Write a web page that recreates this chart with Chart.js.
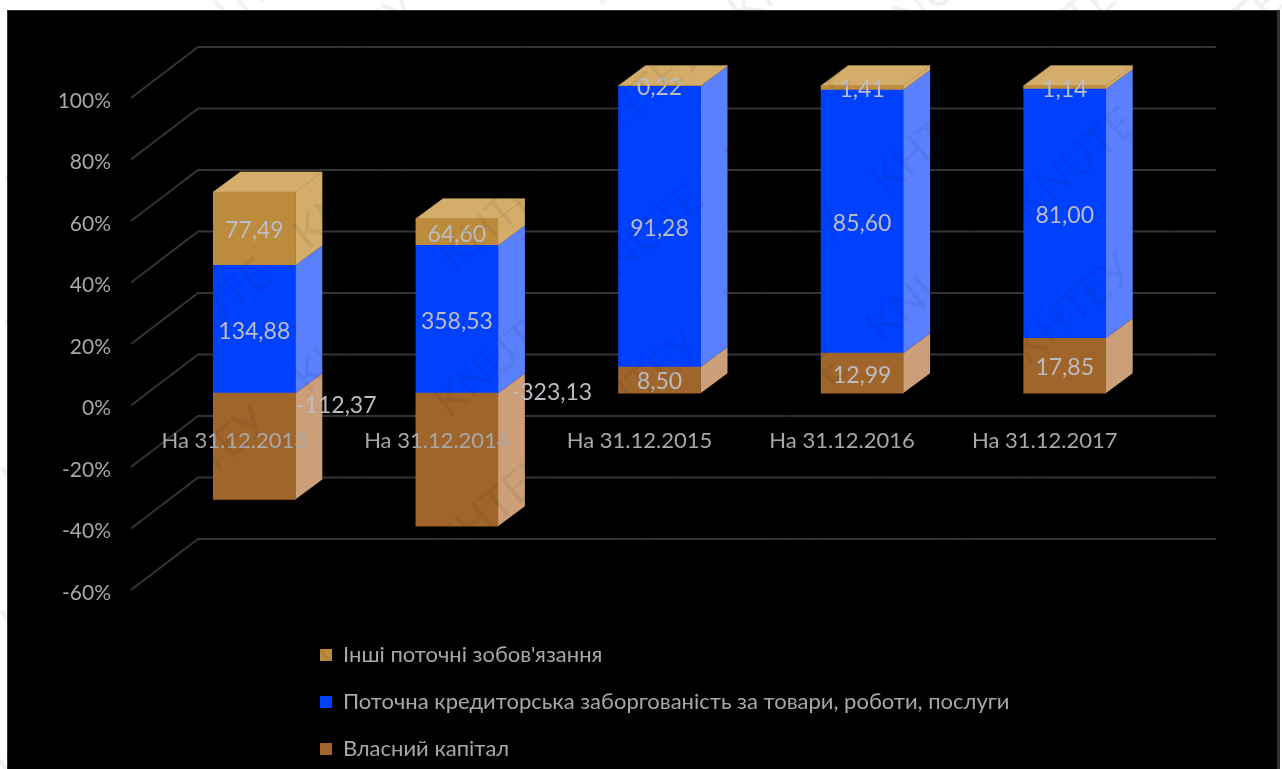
<!DOCTYPE html>
<html>
<head>
<meta charset="utf-8">
<style>
html, body { margin: 0; padding: 0; background: #fff; overflow: hidden; }
canvas { display: block; }
</style>
<script src="https://cdn.jsdelivr.net/npm/chart.js@4"></script>
</head>
<body>
<canvas id="chart" width="1282" height="769"></canvas>
<script>
const categories = ['На 31.12.2013', 'На 31.12.2014', 'На 31.12.2015', 'На 31.12.2016', 'На 31.12.2017'];
const equity = [-112.37, -323.13, 8.50, 12.99, 17.85];
const payables = [134.88, 358.53, 91.28, 85.60, 81.00];
const other = [77.49, 64.60, 0.22, 1.41, 1.14];
const seriesNames = ['Власний капітал', 'Поточна кредиторська заборгованість за товари, роботи, послуги', "Інші поточні зобов'язання"];
const tickValues = [-60, -40, -20, 0, 20, 40, 60, 80, 100];

const FONT = 'Lato, "Noto Sans", sans-serif';
const TEXT = '#a8a8a8';
const LABEL = '#bcbcc4';
const GRID = '#343434';

// bars sit part way into the floor, the walls are further back
const barDx = 27, barDy = 20;
const wallDx = 67, wallDy = 51;
const planeShift = 5; // % the bar plane is raised above the front plane
const wallLeftGap = 22;

// shown value -> share of the column, as Excel does for a 100% stacked chart
function shares(arr) {
	return arr.map((v, i) => {
		const total = Math.abs(equity[i]) + Math.abs(payables[i]) + Math.abs(other[i]);
		return v / total * 100;
	});
}

const shown = [equity, payables, other];
const sideColors = ['#cc9f78', '#5a80ff', '#d4ad6a'];
const topColor = '#d4ad6a';

// the two negative labels are pushed off the bar in the original
const negShift = {0: {x: 82, y: -43}, 1: {x: 95, y: -69}};

const frame3d = {
	id: 'frame3d',
	beforeDraw(chart) {
		const c = chart.ctx;
		c.save();
		c.fillStyle = '#fff';
		c.fillRect(0, 0, chart.width, chart.height);
		c.fillStyle = '#333';
		c.fillRect(7, 10, 1273, 759);
		c.fillStyle = '#000';
		c.fillRect(8, 11, 1269, 758);
		c.restore();
	},
	beforeDatasetsDraw(chart) {
		const c = chart.ctx;
		const yAxis = chart.scales.y;
		const x0 = chart.chartArea.left - wallLeftGap;
		c.save();
		c.strokeStyle = GRID;
		c.lineWidth = 2;
		yAxis.ticks.forEach(t => {
			const py = yAxis.getPixelForValue(t.value) - 3;
			c.beginPath();
			c.moveTo(x0, py);
			c.lineTo(x0 + wallDx, py - wallDy);
			c.lineTo(1216, py - wallDy);
			c.stroke();
		});
		// side and top faces from the bar elements
		chart.data.datasets.forEach((ds, d) => {
			chart.getDatasetMeta(d).data.forEach(bar => {
				const r = bar.x + bar.width / 2;
				c.fillStyle = sideColors[d];
				c.beginPath();
				c.moveTo(r, bar.y);
				c.lineTo(r + barDx, bar.y - barDy);
				c.lineTo(r + barDx, bar.base - barDy);
				c.lineTo(r, bar.base);
				c.closePath();
				c.fill();
			});
		});
		chart.getDatasetMeta(2).data.forEach(bar => {
			const l = bar.x - bar.width / 2, r = bar.x + bar.width / 2;
			c.fillStyle = topColor;
			c.strokeStyle = topColor;
			c.lineWidth = 0.6;
			c.beginPath();
			c.moveTo(l, bar.y);
			c.lineTo(l + barDx, bar.y - barDy);
			c.lineTo(r + barDx, bar.y - barDy);
			c.lineTo(r, bar.y);
			c.closePath();
			c.fill();
			c.stroke();
		});
		c.restore();
	},
	afterDatasetsDraw(chart) {
		const c = chart.ctx;
		c.save();
		c.font = '23px ' + FONT;
		c.fillStyle = LABEL;
		c.textAlign = 'center';
		c.textBaseline = 'middle';
		chart.data.datasets.forEach((ds, d) => {
			chart.getDatasetMeta(d).data.forEach((bar, i) => {
				const txt = shown[d][i].toFixed(2).replace('.', ',');
				let x = bar.x, y = (bar.y + bar.base) / 2 + 2;
				if (d == 0 && negShift[i]) {
					x += negShift[i].x;
					y += negShift[i].y;
				}
				c.fillText(txt, x, y);
			});
		});
		c.restore();
	},
	afterLayout(chart) {
		// legend list under the plot
		const lg = chart.legend;
		lg.left = 320 - lg.options.labels.padding;
		lg.right = 1270;
		lg.top = 619;
		lg.bottom = 1000;
		lg.width = lg.right - lg.left;
		lg.height = lg.bottom - lg.top;
	},
	afterDraw(chart) {
		const c = chart.ctx;
		c.save();
		c.font = '44px ' + FONT;
		c.fillStyle = 'rgba(0,0,0,0.06)';
		c.textAlign = 'center';
		c.textBaseline = 'middle';
		c.translate(640, 385);
		c.rotate(-40 * Math.PI / 180);
		for (let row = -5; row <= 5; row++) {
			for (let col = -5; col <= 5; col++) {
				c.fillText(row % 2 == 0 ? 'KНТЕУ' : 'KNUTE', col * 190 + (row % 2) * 95, row * 110);
			}
		}
		c.restore();
	},
};

window.addEventListener('load', e => {
	new Chart('chart', {
		type: 'bar',
		plugins: [frame3d],
		data: {
			labels: categories,
			datasets: [
				{label: seriesNames[0], data: shares(equity), backgroundColor: '#a0652a', yAxisID: 'yBars', clip: false},
				{label: seriesNames[1], data: shares(payables), backgroundColor: '#0041ff', yAxisID: 'yBars', clip: false},
				{label: seriesNames[2], data: shares(other), backgroundColor: '#bc8c3c', yAxisID: 'yBars', clip: false},
			],
		},
		options: {
			responsive: false,
			animation: false,
			layout: {padding: {top: 101, right: 116, bottom: 176, left: 0}},
			datasets: {bar: {barThickness: 82}},
			plugins: {
				tooltip: {enabled: false},
				legend: {
					position: 'chartArea',
					reverse: true,
					align: 'start',
					labels: {
						color: TEXT,
						font: {family: FONT, size: 22},
						boxWidth: 12,
						boxHeight: 12,
						padding: 25,
					},
				},
			},
			scales: {
				x: {
					stacked: true,
					position: {y: 0},
					grid: {display: false, drawTicks: false},
					border: {display: false},
					ticks: {
						color: TEXT,
						font: {family: FONT, size: 22},
						labelOffset: -20,
						padding: 19,
						maxRotation: 0,
						autoSkip: false,
						z: 1,
					},
				},
				y: {
					min: tickValues[0],
					max: tickValues[tickValues.length - 1],
					grid: {display: false, drawTicks: false},
					border: {display: false},
					afterFit: s => { s.width = 153; },
					afterBuildTicks: s => { s.ticks = tickValues.map(v => ({value: v})); },
					ticks: {
						color: TEXT,
						font: {family: FONT, size: 21},
						padding: 42,
						callback: v => v + '%',
					},
				},
				yBars: {
					display: false,
					stacked: true,
					min: tickValues[0] - planeShift,
					max: tickValues[tickValues.length - 1] - planeShift,
				},
			},
		},
	});
});
</script>
</body>
</html>
